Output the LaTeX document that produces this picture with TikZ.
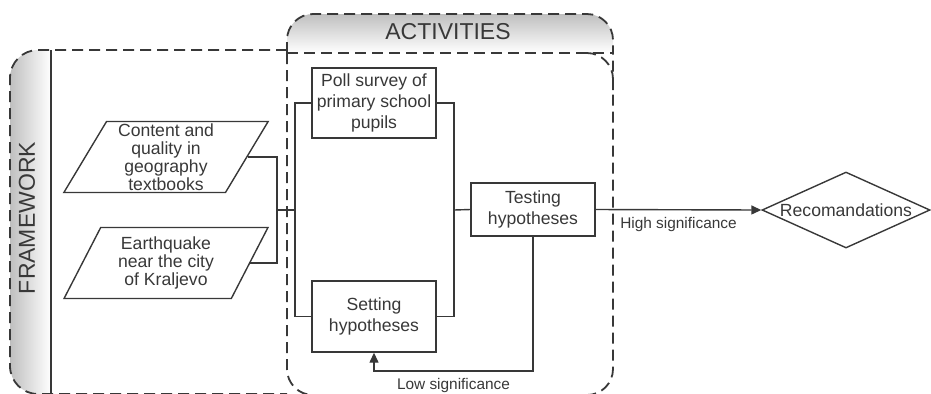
\documentclass[tikz,border=0pt]{standalone}
\usepackage{fontspec}
\setmainfont{Liberation Sans}
\usetikzlibrary{shapes.geometric,arrows.meta}

\begin{document}
\begin{tikzpicture}[x=0.5pt,y=-0.5pt,color=black!78,line width=0.7pt,
    lane/.style={dash pattern=on 5.5pt off 3pt,line width=0.9pt},
    box/.style={draw,rectangle,minimum width=62pt,align=center,inner sep=2pt,
      font=\fontsize{8.8}{10.3}\selectfont},
    source/.style={draw,trapezium,trapezium left angle=63,trapezium right angle=117,
      trapezium stretches=true,minimum width=102.5pt,minimum height=35.5pt,
      align=center,inner sep=0pt,font=\fontsize{8.8}{9.1}\selectfont},
    decision/.style={draw,diamond,aspect=2.2,inner sep=0pt,minimum width=84pt,
      minimum height=38pt,font=\fontsize{8.8}{10.3}\selectfont},
    link/.style={-{Triangle[length=5pt,width=4.5pt]}},
    note/.style={font=\fontsize{7.7}{9}\selectfont},
    title/.style={font=\fontsize{11.5}{13}\selectfont}]
  \useasboundingbox (0,0) rectangle (931,393);

  % swimlane backgrounds
  \begin{scope}
    \clip [rounded corners=14pt] (10,50) rectangle (80,394);
    \shade [left color=black!25,right color=white] (10,50) rectangle (51,394);
  \end{scope}
  \begin{scope}
    \clip [rounded corners=13pt] (287,14) rectangle (613,80);
    \shade [top color=black!25,bottom color=white] (287,14) rectangle (613,53);
  \end{scope}

  % swimlane borders
  \draw [lane,rounded corners=14pt] (287,50) -- (10,50) -- (10,394) -- (287,394);
  \draw (51,50) -- (51,393);
  \draw [lane,rounded corners=13pt] (287,53) -- (287,14) -- (613,14) -- (613,53);
  \draw [lane] (287,53) -- (613,53);
  \draw [lane,rounded corners=13pt] (287,53) -- (287,395) -- (613,395) -- (613,53);
  \draw [lane,rounded corners=13pt] (585,53) -- (613,53) -- (613,90);

  \node [title,rotate=90] (framework) at (27,218) {FRAMEWORK};
  \node [title] (activities) at (448,32) {ACTIVITIES};

  % inputs
  \node [source] (textbooks) at (166,157) {Content and\\quality in\\geography\\textbooks};
  \node [source] (earthquake) at (166,263) {Earthquake\\near the city\\of Kraljevo};

  % activities
  \node [box,minimum height=35pt] (poll) at (374,103) {Poll survey of\\primary school\\pupils};
  \node [box,minimum height=35.5pt] (setting) at (374,316.5) {Setting\\hypotheses};
  \node [box,minimum height=26.5pt] (testing) at (533,209.5) {Testing\\hypotheses};
  \node [decision] (recommend) at (846,210) {Recomandations};

  \coordinate (join in) at (277,210);
  \coordinate (split) at (295,210);
  \coordinate (join out) at (454,210);
  \coordinate (loop) at (533,371);

  \draw (textbooks.east) -| (join in) |- (earthquake.east);
  \draw (join in) -- (split);
  \draw (poll.west) -| (split) |- (setting.west);
  \draw (poll.east) -| (join out) |- (setting.east);
  \draw (join out) -- (testing.west);
  \draw [link] (testing.east) -- node [note,below] (high) {High significance} (recommend.west);
  \draw [link] (testing.south) -- (loop) -| node [note,below,pos=0.25] (low) {Low significance} (setting.south);
\end{tikzpicture}
\end{document}
